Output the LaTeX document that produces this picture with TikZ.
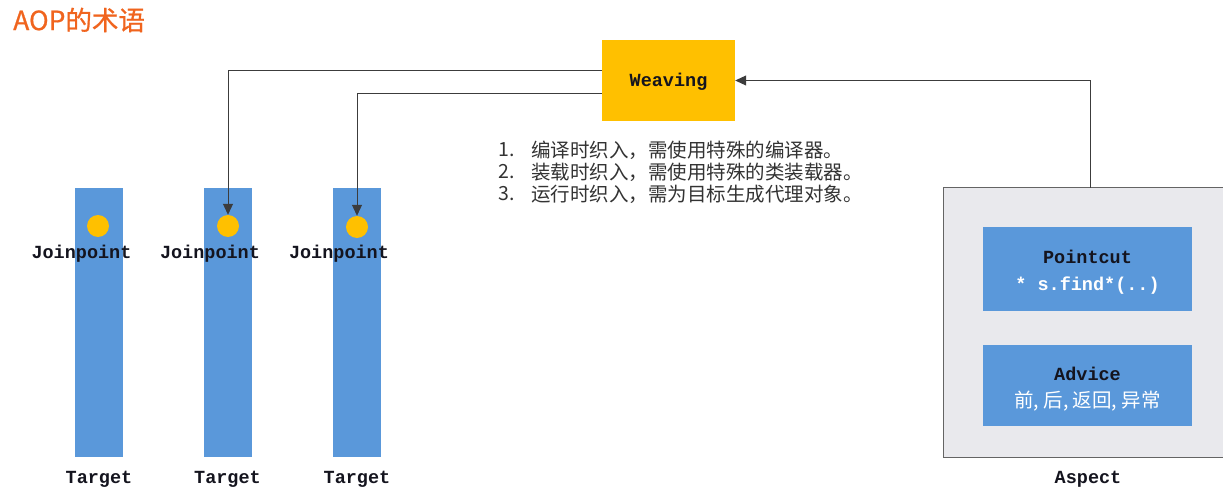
\documentclass[tikz,border=0pt]{standalone}
\usepackage{fontspec}
\setmainfont{Liberation Sans}
\newfontfamily\cjk{Noto Sans CJK SC}
\newfontfamily\titlefont{Noto Sans CJK SC}[FakeBold=0.8]
\newfontfamily\monob{Liberation Mono}[BoldFont={Liberation Mono Bold}]
\usetikzlibrary{arrows.meta}
\definecolor{bluebar}{RGB}{90,152,218}
\definecolor{gold}{RGB}{255,192,0}
\definecolor{titleorange}{RGB}{240,100,30}
\definecolor{aspectfill}{RGB}{233,233,237}
\definecolor{aspectline}{RGB}{100,100,100}
\definecolor{conn}{RGB}{60,60,60}
\definecolor{darktxt}{RGB}{20,20,30}
\tikzset{
  bar/.style={fill=bluebar, draw=none, minimum width=48pt, minimum height=269pt, inner sep=0pt},
  dot/.style={circle, fill=gold, draw=none, minimum size=22pt, inner sep=0pt},
  mono/.style={font=\monob\bfseries\fontsize{18.5}{20}\selectfont, text=darktxt, inner sep=0pt},
  cjktxt/.style={font=\cjk\fontsize{19.5}{22}\selectfont, text=black!80, inner sep=0pt, anchor=west},
  conn/.style={draw=conn, line width=0.9pt, -{Triangle[length=11pt,width=10pt]}},
  innerbox/.style={fill=bluebar, draw=none, minimum width=209pt, minimum height=84pt, inner sep=0pt},
}
\begin{document}
\begin{tikzpicture}[x=1pt,y=-1pt]
\useasboundingbox (0,0) rectangle (1223,494);
% title
\node[anchor=west, font=\titlefont\fontsize{26.5}{28}\selectfont, text=titleorange, inner sep=0pt] (title) at (13,20) {AOP的术语};
% weaving
\node[fill=gold, minimum width=133pt, minimum height=81pt, inner sep=0pt] (weave) at (668.5,80.5) {};
\node[mono] (weavetxt) at (668.5,81.5) {Weaving};
% bars
\node[bar] (b1) at (99,322.5) {};
\node[bar] (b2) at (227.5,322.5) {};
\node[bar] (b3) at (356.5,322.5) {};
\node[dot] (d1) at (98,226) {};
\node[dot] (d2) at (228,226) {};
\node[dot] (d3) at (357,227) {};
\node[mono] (j1) at (81.5,254) {Joinpoint};
\node[mono] (j2) at (210,254) {Joinpoint};
\node[mono] (j3) at (339,254) {Joinpoint};
\node[mono] (t1) at (99,479) {Target};
\node[mono] (t2) at (227.5,479) {Target};
\node[mono] (t3) at (357,479) {Target};
% list
\node[cjktxt] (n1) at (498,150) {1.};
\node[cjktxt] (n2) at (498,172) {2.};
\node[cjktxt] (n3) at (498,194) {3.};
\node[cjktxt] (l1) at (531,150) {编译时织入，需使用特殊的编译器。};
\node[cjktxt] (l2) at (531,172) {装载时织入，需使用特殊的类装载器。};
\node[cjktxt] (l3) at (531,194) {运行时织入，需为目标生成代理对象。};
% aspect
\node[fill=aspectfill, draw=aspectline, line width=1pt, minimum width=290pt, minimum height=269pt, inner sep=0pt] (aspect) at (1088,322.5) {};
\node[innerbox] (pc) at (1087.5,269) {};
\node[mono] (pct) at (1087.5,257) {Pointcut};
\node[mono, text=white] (pcs) at (1087.5,286) {* s.find*(..)};
\node[innerbox, minimum height=81pt] (adv) at (1087.5,385.5) {};
\node[mono] (advt) at (1087.5,374) {Advice};
\node[font=\cjk\fontsize{19.5}{22}\selectfont, text=white, inner sep=0pt] (advs) at (1087.5,401) {前, 后, 返回, 异常};
\node[mono] (asp) at (1088,479) {Aspect};
% connectors
\coordinate (w1) at (weave.west |- 0,70);
\coordinate (w2) at (weave.west |- 0,93);
\draw[conn] (w1) -| (d2.north);
\draw[conn] (w2) -| (d3.north);
\coordinate (atop) at (1090,188);
\draw[conn] (atop) |- (weave.east);
\end{tikzpicture}
\end{document}
